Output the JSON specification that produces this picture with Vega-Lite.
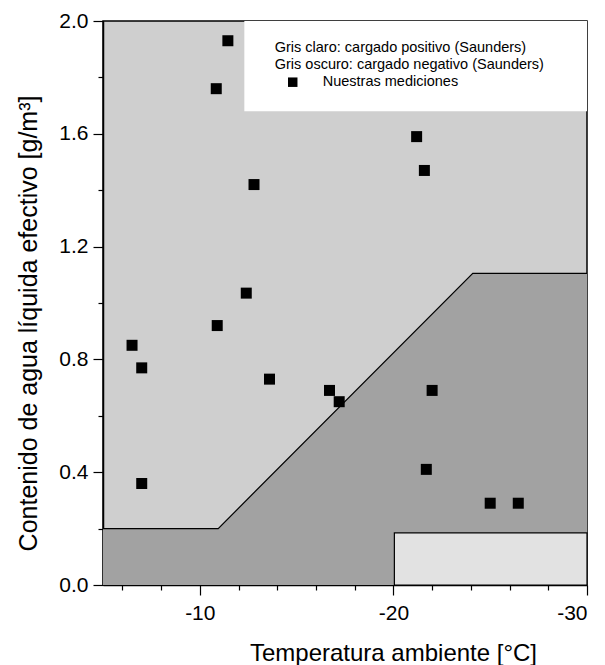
{
  "$schema": "https://vega.github.io/schema/vega-lite/v6.json",
  "autosize": {"type": "none"},
  "width": 484,
  "height": 564,
  "padding": {"left": 103, "top": 21, "right": 18, "bottom": 80},
  "background": "white",
  "config": {
    "view": {"fill": "#cfcfcf", "stroke": "black", "strokeWidth": 1.5},
    "font": "Liberation Sans",
    "axis": {"grid": false, "domainColor": "black", "domainWidth": 1.5, "tickColor": "black", "tickWidth": 1.2, "labelColor": "black", "titleColor": "black", "labelFont": "Liberation Sans", "titleFont": "Liberation Sans", "labelFontSize": 21, "titleFontSize": 24, "titleFontWeight": "normal"}
  },
  "datasets": {
    "points": [
      {"t": -6.5, "lwc": 0.85},
      {"t": -7.0, "lwc": 0.77},
      {"t": -7.0, "lwc": 0.36},
      {"t": -10.9, "lwc": 0.92},
      {"t": -11.45, "lwc": 1.93},
      {"t": -10.85, "lwc": 1.76},
      {"t": -12.8, "lwc": 1.42},
      {"t": -12.4, "lwc": 1.035},
      {"t": -13.6, "lwc": 0.73},
      {"t": -16.7, "lwc": 0.69},
      {"t": -17.2, "lwc": 0.65},
      {"t": -21.2, "lwc": 1.59},
      {"t": -21.6, "lwc": 1.47},
      {"t": -22.0, "lwc": 0.69},
      {"t": -21.7, "lwc": 0.41},
      {"t": -25.0, "lwc": 0.29},
      {"t": -26.45, "lwc": 0.29}
    ],
    "boundary": [
      {"t": -5, "lwc": 0.2},
      {"t": -10.95, "lwc": 0.2},
      {"t": -24.1, "lwc": 1.105},
      {"t": -30, "lwc": 1.105}
    ],
    "legendtext": [
      {"t": -13.87, "lwc": 1.905, "label": "Gris claro: cargado positivo (Saunders)"},
      {"t": -13.87, "lwc": 1.845, "label": "Gris oscuro: cargado negativo (Saunders)"},
      {"t": -16.35, "lwc": 1.783, "label": "Nuestras mediciones"}
    ],
    "legendsym": [{"t": -14.8, "lwc": 1.783}],
    "lowbox": [{"t1": -20.05, "t2": -30, "y1": 0, "y2": 0.185}],
    "legbox": [{"t1": -12.3, "t2": -30, "y1": 1.68, "y2": 2.0}]
  },
  "layer": [
    {
      "data": {"name": "boundary"},
      "mark": {"type": "area", "color": "#a2a2a2", "clip": true},
      "encoding": {
        "x": {"field": "t", "type": "quantitative", "scale": {"domain": [-30, -5], "reverse": true, "nice": false},
          "axis": {
            "values": [-6, -8, -10, -12, -14, -16, -18, -20, -22, -24, -26, -28, -30],
            "labelExpr": "datum.value % 10 === 0 ? (datum.value + '') : ''",
            "tickSize": {"condition": {"test": "datum.value % 10 === 0", "value": 10}, "value": 5},
            "labelPadding": 7,
            "title": "Temperatura ambiente [°C]",
            "titleX": 290, "titleY": 68, "titleAlign": "center", "titleBaseline": "middle", "titleAnchor": null
          }},
        "y": {"field": "lwc", "type": "quantitative", "scale": {"domain": [0, 2], "nice": false},
          "axis": {
            "values": [0, 0.1, 0.2, 0.3, 0.4, 0.5, 0.6, 0.7, 0.8, 0.9, 1.0, 1.1, 1.2, 1.3, 1.4, 1.5, 1.6, 1.7, 1.8, 1.9, 2.0],
            "labelExpr": "round(datum.value * 10) % 4 === 0 ? format(datum.value, '.1f') : ''",
            "tickSize": {"condition": {"test": "round(datum.value * 10) % 4 === 0", "value": 10}, "value": 5},
            "labelPadding": 5,
            "title": "Contenido de agua líquida efectivo [g/m³]",
            "titleFontSize": 25,
            "titleX": -75, "titleY": 302, "titleAngle": -90, "titleAlign": "center", "titleBaseline": "middle", "titleAnchor": null
          }},
        "y2": {"datum": 0}
      }
    },
    {
      "data": {"name": "boundary"},
      "mark": {"type": "line", "color": "black", "strokeWidth": 1.2, "clip": true},
      "encoding": {
        "x": {"field": "t", "type": "quantitative"},
        "y": {"field": "lwc", "type": "quantitative"}
      }
    },
    {
      "data": {"name": "lowbox"},
      "mark": {"type": "rect", "fill": "#e2e2e2", "stroke": "black", "strokeWidth": 1.2},
      "encoding": {
        "x": {"field": "t1", "type": "quantitative"},
        "x2": {"field": "t2"},
        "y": {"field": "y1", "type": "quantitative"},
        "y2": {"field": "y2"}
      }
    },
    {
      "data": {"name": "legbox"},
      "mark": {"type": "rect", "fill": "white"},
      "encoding": {
        "x": {"field": "t1", "type": "quantitative"},
        "x2": {"field": "t2"},
        "y": {"field": "y1", "type": "quantitative"},
        "y2": {"field": "y2"}
      }
    },
    {
      "data": {"name": "points"},
      "mark": {"type": "point", "shape": "square", "filled": true, "color": "black", "opacity": 1, "size": 121},
      "encoding": {
        "x": {"field": "t", "type": "quantitative"},
        "y": {"field": "lwc", "type": "quantitative"}
      }
    },
    {
      "data": {"name": "legendsym"},
      "mark": {"type": "point", "shape": "square", "filled": true, "color": "black", "opacity": 1, "size": 90},
      "encoding": {
        "x": {"field": "t", "type": "quantitative"},
        "y": {"field": "lwc", "type": "quantitative"}
      }
    },
    {
      "data": {"name": "legendtext"},
      "mark": {"type": "text", "align": "left", "baseline": "middle", "fontSize": 14.5, "font": "Liberation Sans", "color": "black"},
      "encoding": {
        "x": {"field": "t", "type": "quantitative"},
        "y": {"field": "lwc", "type": "quantitative"},
        "text": {"field": "label"}
      }
    }
  ]
}
